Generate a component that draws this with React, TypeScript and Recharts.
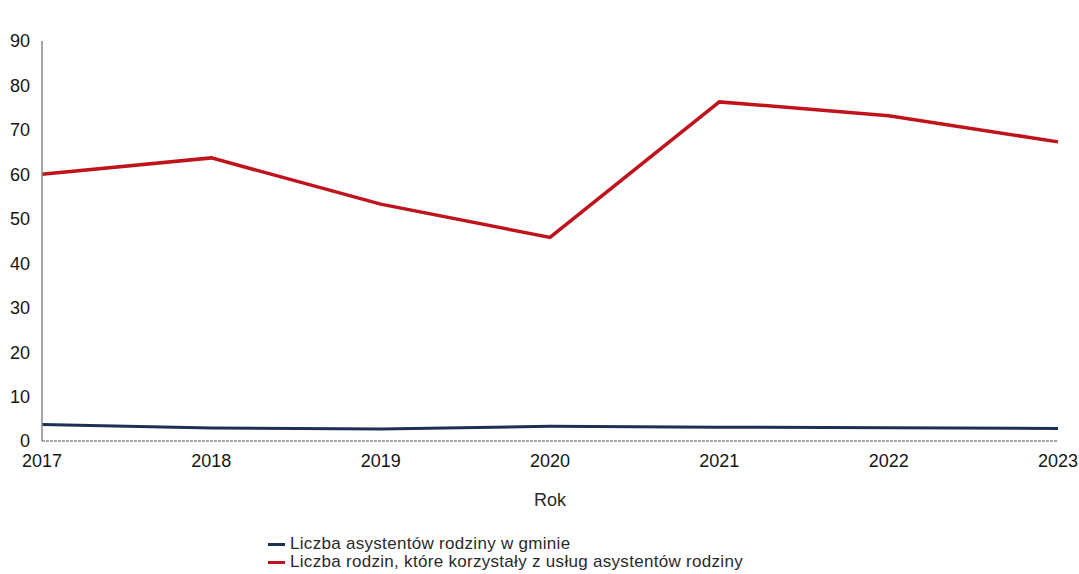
import { LineChart, Line, XAxis, YAxis } from "recharts";

const years = ["2017", "2018", "2019", "2020", "2021", "2022", "2023"];
const assistants = [3.7, 2.9, 2.7, 3.3, 3.1, 3.0, 2.8];
const families = [60, 63.7, 53.3, 45.8, 76.3, 73.2, 67.3];
const yTicks = [0, 10, 20, 30, 40, 50, 60, 70, 80, 90];

const seriesNames = {
  assistants: "Liczba asystentów rodziny w gminie",
  families: "Liczba rodzin, które korzystały z usług asystentów rodziny",
};

const data = years.map((year, i) => ({
  year,
  assistants: assistants[i],
  families: families[i],
}));

const tickStyle = { fill: "#151515", fontSize: 18 };

function LegendBox() {
  const rows = [
    { color: "#1c2f57", label: seriesNames.assistants },
    { color: "#c0141c", label: seriesNames.families },
  ];
  return (
    <div
      style={{
        position: "absolute",
        left: 268,
        top: 535,
        fontSize: 17,
        color: "#2a2a2a",
        lineHeight: "18px",
        letterSpacing: 0.3,
        whiteSpace: "nowrap",
      }}
    >
      {rows.map((r) => (
        <div key={r.label} style={{ display: "flex", alignItems: "center" }}>
          <span
            style={{
              display: "inline-block",
              width: 17,
              height: 3,
              background: r.color,
              marginRight: 5,
            }}
          />
          {r.label}
        </div>
      ))}
    </div>
  );
}

export default function App() {
  return (
    <div
      style={{
        position: "absolute",
        left: 0,
        top: 0,
        width: 1079,
        height: 574,
        background: "#fff",
        fontFamily: "'Liberation Sans', Arial, sans-serif",
      }}
    >
      <LineChart
        width={1079}
        height={574}
        data={data}
        margin={{ top: 41, right: 21, left: 0, bottom: 0 }}
      >
        <XAxis
          dataKey="year"
          height={133}
          tick={tickStyle}
          tickLine={false}
          tickMargin={7}
          axisLine={{ stroke: "#8a8a8a", strokeWidth: 1.5, strokeDasharray: "3 1" }}
          label={{
            value: "Rok",
            position: "insideTop",
            offset: 52,
            fill: "#2a2a2a",
            fontSize: 18,
          }}
        />
        <YAxis
          width={42}
          domain={[0, 90]}
          ticks={yTicks}
          tick={tickStyle}
          tickLine={false}
          tickMargin={6}
          axisLine={{ stroke: "#8a8a8a", strokeWidth: 1.5 }}
        />
        <Line
          dataKey="assistants"
          name={seriesNames.assistants}
          stroke="#1c2f57"
          strokeWidth={3}
          dot={false}
          isAnimationActive={false}
        />
        <Line
          dataKey="families"
          name={seriesNames.families}
          stroke="#c0141c"
          strokeWidth={3.5}
          dot={false}
          isAnimationActive={false}
        />
      </LineChart>
      <LegendBox />
    </div>
  );
}
